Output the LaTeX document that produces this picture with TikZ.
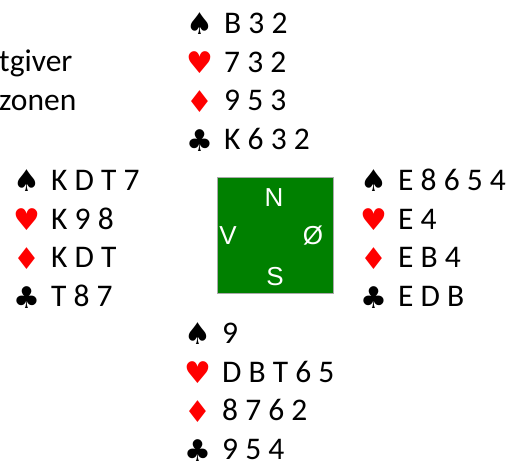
\documentclass[tikz,border=0pt]{standalone}
\usepackage{fontspec}
\setmainfont{Carlito}
\newfontfamily\suitfont{DejaVu Sans}
\newfontfamily\compassfont{Liberation Sans}
\usetikzlibrary{positioning}

\definecolor{tablegreen}{RGB}{0,128,0}
\definecolor{tableborder}{RGB}{170,170,170}

\tikzstyle{suit black}=[font=\suitfont\fontsize{30}{30}\selectfont,
    inner sep=0pt,text=black]
\tikzstyle{suit red}=[font=\suitfont\fontsize{30}{30}\selectfont,
    inner sep=0pt,text=red]
\tikzstyle{cards}=[font=\fontsize{31.5}{36}\selectfont,
    inner sep=0pt,anchor=base west]
\tikzstyle{compass}=[font=\compassfont\fontsize{26}{26}\selectfont,
    inner sep=0pt,text=white]
\tikzstyle{table}=[fill=tablegreen,draw=tableborder,line width=0.9pt,
    minimum size=116pt,inner sep=0pt]

\newcommand{\suitrow}[4]{
    \node[#1] at (0,#2) (#3) {#4};
}
\newcommand{\hand}[6]{
    \begin{scope}[shift={(#1)}]
    \suitrow{suit black}{0}{#2 spade}{♠}
    \suitrow{suit red}{38.7}{#2 heart}{♥}
    \suitrow{suit red}{77.4}{#2 diamond}{♦}
    \suitrow{suit black}{116.1}{#2 club}{♣}
    \node[cards] at (24,9.5) (#2 spade cards) {#3};
    \node[cards] at (24,48.2) (#2 heart cards) {#4};
    \node[cards] at (24,86.9) (#2 diamond cards) {#5};
    \node[cards] at (24,125.6) (#2 club cards) {#6};
    \end{scope}
}

\begin{document}
\begin{tikzpicture}[x=1pt,y=-1pt]
    \useasboundingbox (0,0) rectangle (509,462);
    %
    \node[cards] at (-1,72) (dealer) {tgiver};
    \node[cards] at (-1,111) (zone) {zonen};
    %
    \hand{200,24}{north}{B 3 2}{7 3 2}{9 5 3}{K 6 3 2}
    \hand{27,181}{west}{K D T 7}{K 9 8}{K D T}{T 8 7}
    \hand{374,181}{east}{E 8 6 5 4}{E 4}{E B 4}{E D B}
    \hand{198,334}{south}{9}{D B T 6 5}{8 7 6 2}{9 5 4}
    %
    \node[table] at (275,235.5) (table) {};
    \node[compass] at (274,198) (N) {N};
    \node[compass] at (228,236) (V) {V};
    \node[compass] at (313,236) (O) {Ø};
    \node[compass] at (275,277) (S) {S};
\end{tikzpicture}
\end{document}
